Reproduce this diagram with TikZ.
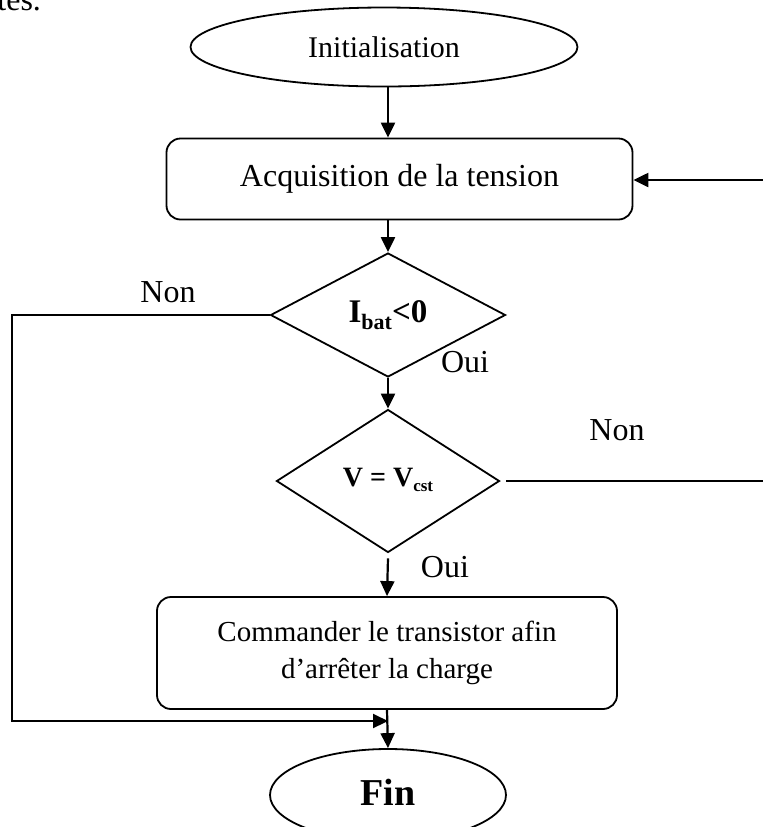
\documentclass[tikz,border=0pt]{standalone}
\usepackage{fontspec}
\setmainfont{Liberation Serif}
\usetikzlibrary{shapes.geometric,arrows.meta}
\tikzset{
  termNode/.style={ellipse,draw,line width=0.9pt,inner sep=0pt},
  procBox/.style={rectangle,rounded corners=7pt,draw,line width=0.9pt,align=center,inner sep=0pt},
  testDiamond/.style={diamond,draw,line width=0.9pt,inner sep=0pt},
  flowArrow/.style={line width=1.1pt,-{Triangle[length=7.5pt,width=7pt]}},
  flowLine/.style={line width=1.1pt},
  sideLabel/.style={anchor=base,inner sep=0pt,font=\fontsize{16}{16}\selectfont}
}
\newcommand{\LowIdx}[2]{\raisebox{-0.45ex}{\fontsize{#1}{#1}\selectfont #2}}

\begin{document}
\begin{tikzpicture}[x=0.5pt,y=-0.5pt]
\useasboundingbox (0,0) rectangle (763,827);
% fin de la phrase au-dessus
\node[anchor=base west,inner sep=0pt,font=\fontsize{16}{16}\selectfont] (pageText) at (-3,10) {tes.};
% blocs
\node[termNode,minimum width=193.5pt,minimum height=39.5pt,font=\fontsize{15}{15}\selectfont] (init) at (384,47) {Initialisation};
\node[procBox,minimum width=233pt,minimum height=40.5pt,font=\fontsize{16}{16}\selectfont] (acq) at (399.5,179) {\raisebox{2pt}{Acquisition de la tension}};
\node[testDiamond,minimum width=117.5pt,minimum height=62pt,font=\fontsize{16.5}{16.5}\selectfont\bfseries] (testI) at (388,315) {I\LowIdx{11}{bat}<0};
\node[testDiamond,minimum width=111.5pt,minimum height=71.5pt,font=\fontsize{14}{14}\selectfont\bfseries] (testV) at (388,481) {\raisebox{4pt}{V = V\LowIdx{8.5}{cst}}};
\node[procBox,minimum width=230pt,minimum height=56pt,font=\fontsize{14.5}{18.5}\selectfont] (cmd) at (387,653) {Commander le transistor afin\\d’arrêter la charge};
\node[termNode,minimum width=118pt,minimum height=46pt,font=\fontsize{19}{19}\selectfont\bfseries] (fin) at (388,795) {\raisebox{2.5pt}{Fin}};
% points libres
\coordinate (loopIn) at (763,180);
\coordinate (loopOut) at (763,481);
\coordinate (leftCorner) at (12,721);
\coordinate (joinPt) at (388,721);
% liaisons
\draw[flowArrow] (init.south -| testI.north) -- (acq.north -| testI.north);
\draw[flowArrow] (acq.south -| testI.north) -- (testI.north);
\draw[flowArrow] (loopIn) -- (loopIn -| acq.east);
\draw[flowArrow] (testI.south) -- (testV.north);
\draw[flowLine] ([xshift=3pt]testV.east) -- (loopOut);
\draw[flowArrow] ([yshift=-2.5pt]testV.south) -- (cmd.north);
\draw[flowArrow] (cmd.south) -- (fin.north);
\draw[flowArrow] (testI.west) -| (leftCorner) -- (joinPt);
% étiquettes
\node[sideLabel] (nonI) at (168,302) {Non};
\node[sideLabel] (ouiI) at (465,372) {Oui};
\node[sideLabel] (nonV) at (617,440) {Non};
\node[sideLabel] (ouiV) at (445,577) {Oui};
\end{tikzpicture}
\end{document}
